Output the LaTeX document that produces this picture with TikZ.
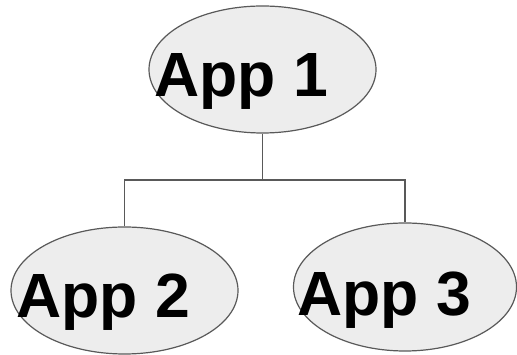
\documentclass[tikz,border=0pt]{standalone}
\usepackage{fontspec}
\setmainfont{Liberation Sans}
\usetikzlibrary{shapes.geometric}
\begin{document}
\begin{tikzpicture}[x=1pt,y=1pt,
  appshape/.style={ellipse,draw=black!65,fill=black!7,line width=1.2pt,inner sep=0pt},
  applabel/.style={anchor=base west,inner sep=0pt,font=\fontsize{62.5}{62.5}\selectfont\bfseries},
  link/.style={draw=black!65,line width=1.2pt}]
\useasboundingbox (0,0) rectangle (517,355);
\node[appshape,minimum width=227pt,minimum height=127pt] (e1) at (262.5,285.5) {};
\node[appshape,minimum width=227pt,minimum height=127pt] (e2) at (124.5,64.5) {};
\node[appshape,minimum width=223pt,minimum height=128pt] (e3) at (405,68) {};
\coordinate (j) at (262.5,175);
\draw[link] (e1.south) -- (j);
\draw[link] (e2.north) |- (j) -| (e3.north);
\node[applabel] (t1) at (154,258) {App 1};
\node[applabel] (t2) at (16,37) {App 2};
\node[applabel] (t3) at (297,39) {App 3};
\end{tikzpicture}
\end{document}
